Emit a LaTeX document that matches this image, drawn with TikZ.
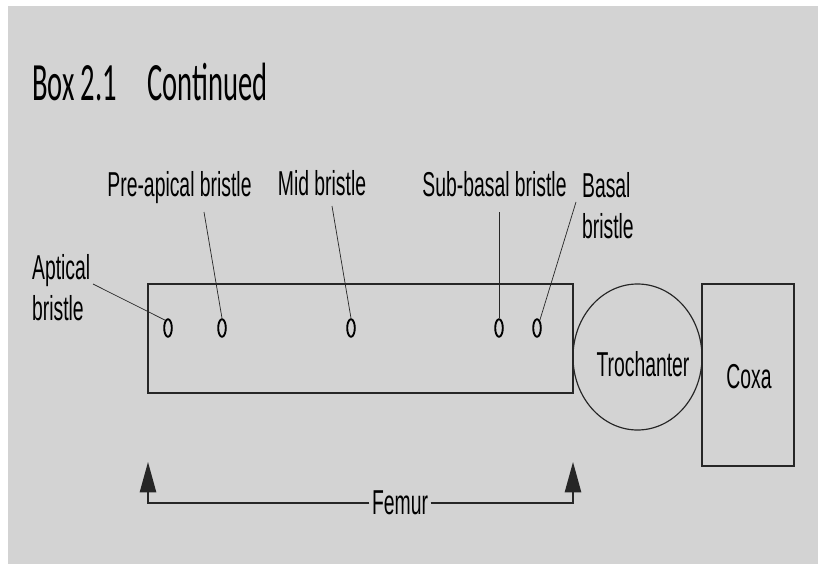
\documentclass[tikz,border=0pt]{standalone}
\usepackage{fontspec}
\setmainfont{Liberation Sans}
\newfontfamily\caixafont{Carlito}
\usepackage{xcolor}
\usetikzlibrary{arrows.meta, shapes.geometric}
\definecolor{painel}{RGB}{211,211,211}
\definecolor{traco}{RGB}{38,38,38}

\begin{document}
\begin{tikzpicture}[x=0.03cm, y=-0.03cm,
  rotulo/.style={font=\fontsize{29.5}{35}\selectfont, xscale=0.56, inner sep=0pt},
  peca/.style={draw=traco, line width=1pt},
  cerda/.style={draw=black, line width=1.6pt, ellipse, inner sep=0pt,
    minimum width=6.5pt, minimum height=15pt},
  chamada/.style={draw=traco, line width=0.6pt},
  cota/.style={draw=traco, line width=1.3pt, -{Triangle[length=26pt, width=14pt]}}]
  % fundo
  \useasboundingbox (0,0) rectangle (818,564);
  \fill[white] (0,0) rectangle (818,564);
  \fill[painel] (8,6) rectangle (818,564);
  % titulo
  \node[anchor=base west, font=\caixafont\fontsize{46}{50}\selectfont, xscale=0.53,
    inner sep=0pt] (titulo) at (32,101) {Box 2.1\hspace{1.05em}Continued};
  % femur, trocanter e coxa
  \draw[peca] (148,284) rectangle (573,393);
  \draw[peca] (637.5,357) ellipse [x radius=64.5, y radius=73];
  \draw[peca] (702,284) rectangle (794,466);
  \node[rotulo] (trocanter) at (643,364) {Trochanter};
  \node[rotulo] (coxa) at (749,377) {Coxa};
  % cerdas
  \foreach \nome/\x in {apical/168, preapical/222, media/351, subbasal/499, basal/537}
    \node[cerda] (\nome) at (\x,328) {};
  % rotulos
  \node[rotulo, anchor=north west, align=left] (lApical) at (32,254) {Aptical\\bristle};
  \node[rotulo, anchor=base] (lPreapical) at (179.5,196) {Pre-apical bristle};
  \node[rotulo, anchor=base] (lMedia) at (322,195) {Mid bristle};
  \node[rotulo, anchor=base] (lSubbasal) at (494.5,196) {Sub-basal bristle};
  \node[rotulo, anchor=north west, align=left] (lBasal) at (582,172) {Basal\\bristle};
  % linhas de chamada
  \coordinate (cApical) at (93,284);
  \coordinate (cPreapical) at (204,212);
  \coordinate (cMedia) at (332,206);
  \coordinate (cSubbasal) at (499,212);
  \coordinate (cBasal) at (576,202);
  \draw[chamada] (cApical) -- (apical.110);
  \draw[chamada] (cPreapical) -- (preapical.north);
  \draw[chamada] (cMedia) -- (media.north);
  \draw[chamada] (cSubbasal) -- (subbasal.north);
  \draw[chamada] (cBasal) -- (basal.70);
  % cota do femur
  \coordinate (pontaE) at (148,462);
  \coordinate (pontaD) at (573,462);
  \node[rotulo, inner sep=4pt] (femur) at (400,503) {Femur};
  \draw[cota] (femur.west) -| (pontaE);
  \draw[cota] (femur.east) -| (pontaD);
\end{tikzpicture}
\end{document}
